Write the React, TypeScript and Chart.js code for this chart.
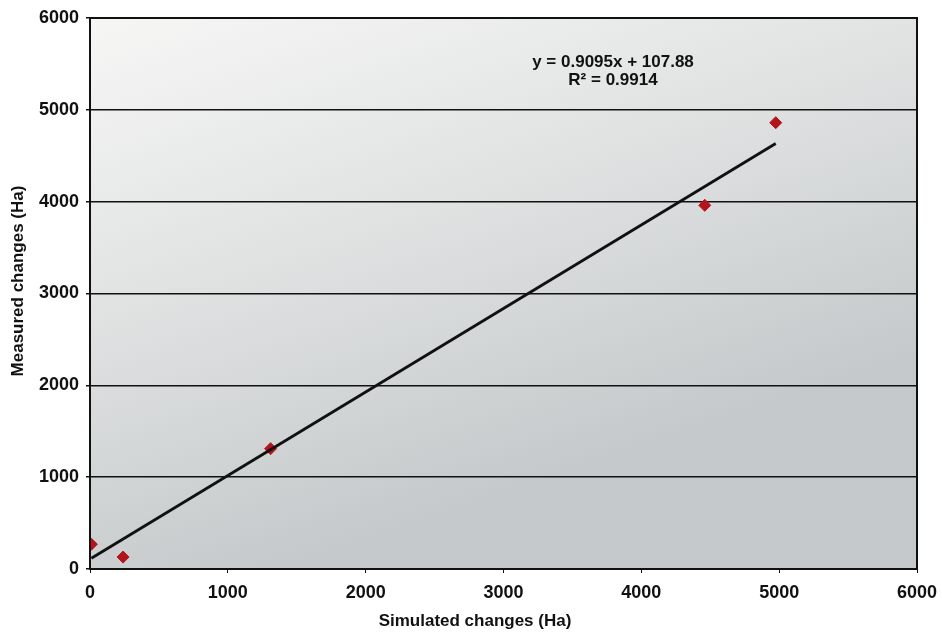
import React, { useEffect, useRef } from "react";
import { Chart, registerables } from "chart.js";

Chart.register(...registerables);

const simulated = [10, 240, 1310, 4460, 4975];
const measured = [270, 130, 1310, 3960, 4860];
const slope = 0.9095;
const intercept = 107.88;
const trendX = [10, 4975];
const equationLines = ["y = 0.9095x + 107.88", "R² = 0.9914"];
const xTitle = "Simulated changes (Ha)";
const yTitle = "Measured changes (Ha)";
const tickValues = [0, 1000, 2000, 3000, 4000, 5000, 6000];

const FONT = "'Liberation Sans', Arial, sans-serif";

const bgPlugin = {
  id: "bgPlugin",
  beforeDraw(chart: any) {
    const { ctx, chartArea: a } = chart;
    ctx.save();
    const g = ctx.createLinearGradient(a.left, a.top, a.right * 0.3, a.bottom);
    g.addColorStop(0, "#f6f6f5");
    g.addColorStop(0.45, "#e2e4e4");
    g.addColorStop(1, "#c6c9cb");
    ctx.fillStyle = g;
    ctx.fillRect(a.left, a.top, a.right - a.left, a.bottom - a.top);
    ctx.restore();
  },
  afterDraw(chart: any) {
    const { ctx, chartArea: a } = chart;
    ctx.save();
    ctx.strokeStyle = "#111";
    ctx.lineWidth = 2;
    ctx.strokeRect(a.left, a.top, a.right - a.left, a.bottom - a.top);
    ctx.fillStyle = "#111";
    ctx.font = `bold 17px ${FONT}`;
    ctx.textAlign = "center";
    ctx.textBaseline = "middle";
    ctx.fillText(equationLines[0], 613, 62);
    ctx.fillText(equationLines[1], 613, 80);
    ctx.font = `bold 17px ${FONT}`;
    ctx.fillText(xTitle, 475, 621);
    ctx.translate(18, 281);
    ctx.rotate(-Math.PI / 2);
    ctx.fillText(yTitle, 0, 0);
    ctx.restore();
  },
};

export default function App() {
  const ref = useRef<HTMLCanvasElement>(null);
  useEffect(() => {
    document.body.style.margin = "0";
    const trend = trendX.map((x) => ({ x, y: slope * x + intercept }));
    const tickFont = { family: FONT, size: 18, weight: "bold" as const };
    const chart = new Chart(ref.current!, {
      type: "scatter",
      data: {
        datasets: [
          {
            type: "line",
            label: "trend",
            data: trend,
            borderColor: "#111",
            borderWidth: 2.8,
            pointRadius: 0,
            fill: false,
          } as any,
          {
            label: "data",
            data: simulated.map((x, i) => ({ x, y: measured[i] })),
            backgroundColor: "#b3141c",
            borderColor: "#b3141c",
            pointStyle: "rectRot",
            pointRadius: 6,
          },
        ],
      },
      options: {
        animation: false,
        responsive: false,
        layout: { padding: { top: 18, right: 25, left: 0, bottom: 0 } },
        plugins: { legend: { display: false }, tooltip: { enabled: false } },
        scales: {
          x: {
            type: "linear",
            min: 0,
            max: 6000,
            afterBuildTicks: (s: any) => {
              s.ticks = tickValues.map((v) => ({ value: v }));
            },
            afterFit: (s: any) => {
              s.height = 64;
              s.paddingRight = 0;
              s.paddingLeft = 0;
            },
            ticks: {
              color: "#111",
              font: tickFont,
              padding: 9,
              callback: (v: any) => String(v),
            },
            grid: { drawOnChartArea: false, drawTicks: true, tickLength: 4, color: "#111" },
            border: { color: "#111", width: 2 },
          },
          y: {
            type: "linear",
            min: 0,
            max: 6000,
            afterBuildTicks: (s: any) => {
              s.ticks = tickValues.map((v) => ({ value: v }));
            },
            afterFit: (s: any) => {
              s.width = 90;
              s.paddingTop = 0;
              s.paddingBottom = 0;
            },
            ticks: {
              color: "#111",
              font: tickFont,
              padding: 7,
              callback: (v: any) => String(v),
            },
            grid: { color: "#111", lineWidth: 1.5, tickLength: 4 },
            border: { color: "#111", width: 2 },
          },
        },
      },
      plugins: [bgPlugin],
    });
    return () => chart.destroy();
  }, []);
  return (
    <div style={{ width: 942, height: 633, background: "#fff" }}>
      <canvas ref={ref} width={942} height={633} />
    </div>
  );
}
